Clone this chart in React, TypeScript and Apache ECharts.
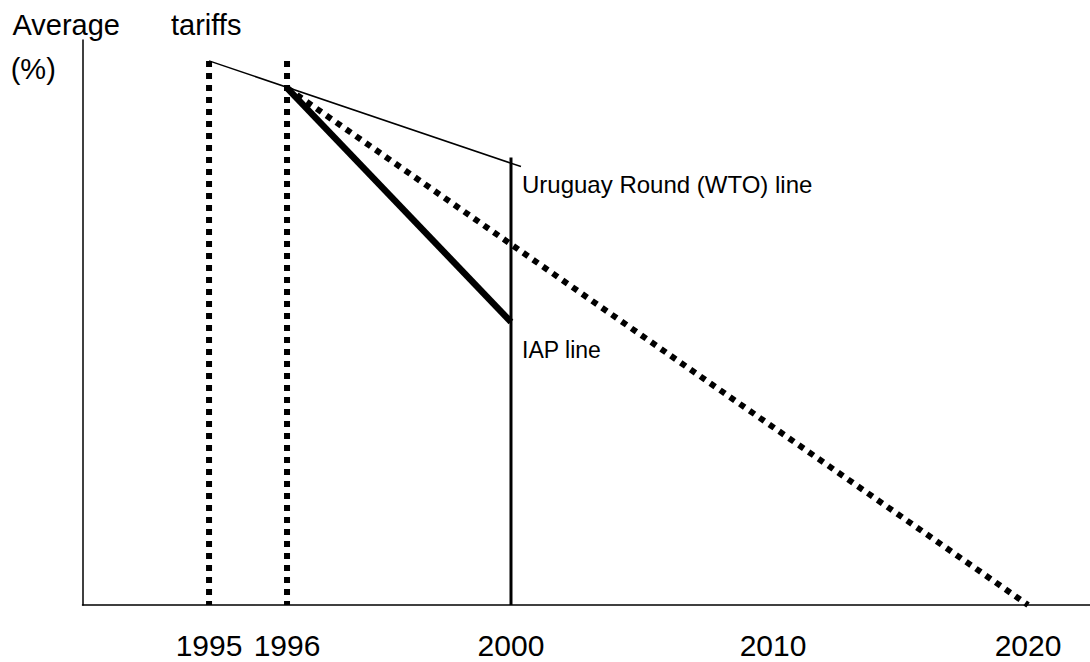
import React, { useEffect, useRef } from 'react';
import * as echarts from 'echarts';

// Schematic x positions (0–100 along the axis) for the year labels
const yearLabels = ['1995', '1996', '2000', '2010', '2020'];
const yearPositions = [12.56, 20.3, 42.53, 68.54, 93.85];

// Lines: [x position, average tariff (schematic %)]
const uruguayRoundLine = [[12.56, 96.3], [43.52, 77.6]];
const iapLine = [[20.3, 91.5], [42.53, 50.1]];
const targetLine = [[20.3, 91.5], [93.85, 0]];
const marker1995 = [[12.56, 96.3], [12.56, 0]];
const marker1996 = [[20.3, 96.3], [20.3, 0]];
const marker2000 = [[42.53, 79.2], [42.53, 0]];

const axisTitleWords = ['Average', 'tariffs'];
const axisUnit = '(%)';
const annotationTexts = ['Uruguay Round (WTO) line', 'IAP line'];

const FONT = '"Liberation Sans", Arial, Helvetica, sans-serif';

export default function App() {
  const ref = useRef<HTMLDivElement>(null);

  useEffect(() => {
    if (!ref.current) return;
    const chart = echarts.init(ref.current, undefined, { renderer: 'svg' });

    const dotted = { color: '#000', width: 6, type: [6, 6], cap: 'butt' };
    const mk = (data: number[][], lineStyle: any) => ({
      type: 'line',
      data,
      symbol: 'none',
      silent: true,
      lineStyle,
    });

    chart.setOption({
      animation: false,
      backgroundColor: '#fff',
      grid: { left: 82.5, right: 0, top: 40, bottom: 57 },
      xAxis: {
        type: 'value',
        min: 0,
        max: 100,
        axisLine: { show: true, lineStyle: { color: '#000', width: 1.5 } },
        axisTick: { show: false },
        splitLine: { show: false },
        axisLabel: {
          customValues: yearPositions,
          hideOverlap: false,
          formatter: (v: number) => {
            const i = yearPositions.findIndex((p) => Math.abs(p - v) < 1e-6);
            return i >= 0 ? yearLabels[i] : '';
          },
          color: '#000',
          fontSize: 30,
          lineHeight: 30,
          fontFamily: FONT,
          margin: 25,
        },
      },
      yAxis: {
        type: 'value',
        min: 0,
        max: 100,
        axisLine: { show: true, lineStyle: { color: '#000', width: 1.5 } },
        axisTick: { show: false },
        axisLabel: { show: false },
        splitLine: { show: false },
      },
      series: [
        mk(marker1995, dotted),
        mk(marker1996, dotted),
        mk(targetLine, dotted),
        mk(marker2000, { color: '#000', width: 3 }),
        mk(iapLine, { color: '#000', width: 6.5 }),
        mk(uruguayRoundLine, { color: '#000', width: 1.5 }),
      ],
      graphic: [
        { type: 'text', left: 12.5, top: 10, style: { text: axisTitleWords[0], font: `29px ${FONT}`, fill: '#000' } },
        { type: 'text', left: 171, top: 10, style: { text: axisTitleWords[1], font: `29px ${FONT}`, fill: '#000' } },
        { type: 'text', left: 10.7, top: 54, style: { text: axisUnit, font: `29px ${FONT}`, fill: '#000' } },
        { type: 'text', left: 522, top: 172, style: { text: annotationTexts[0], font: `24px ${FONT}`, fill: '#000' } },
        { type: 'text', left: 522, top: 338, style: { text: annotationTexts[1], font: `23px ${FONT}`, fill: '#000' } },
      ],
    });

    return () => chart.dispose();
  }, []);

  return (
    <div
      ref={ref}
      style={{ position: 'fixed', left: 0, top: 0, width: 1090, height: 662, background: '#fff' }}
    />
  );
}
